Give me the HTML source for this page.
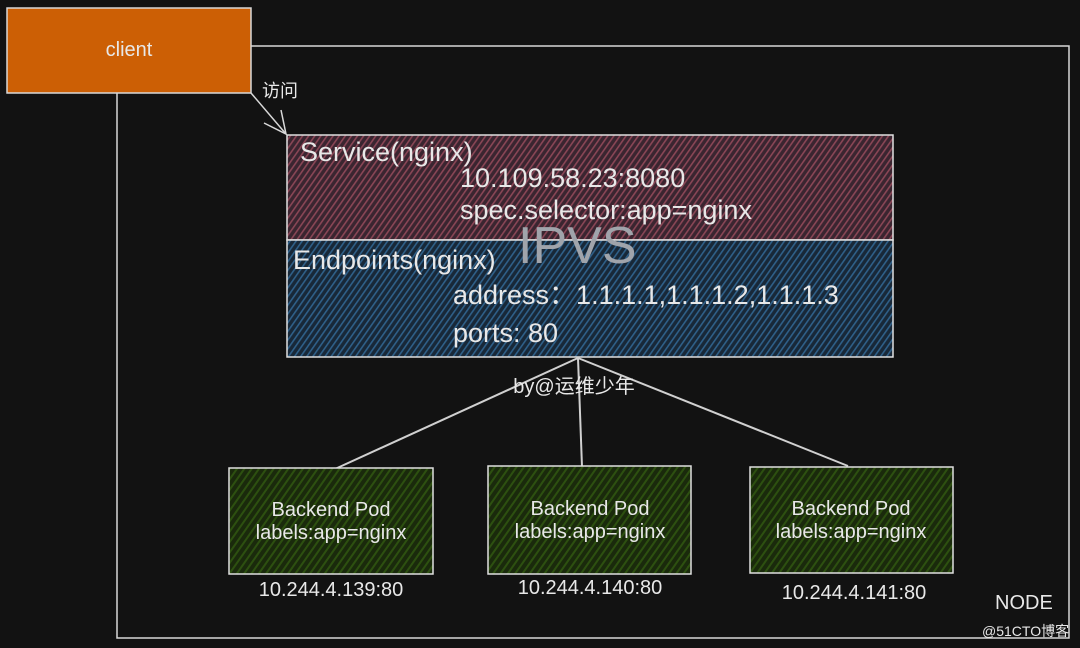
<!DOCTYPE html>
<html><head><meta charset="utf-8"><style>
html,body{margin:0;padding:0;background:#121212;}
svg{display:block}
text{font-family:"Liberation Sans","Noto Sans CJK SC",sans-serif;fill:#e8e8e8}
</style></head><body>
<svg width="1080" height="648" viewBox="0 0 1080 648" xmlns="http://www.w3.org/2000/svg">
<defs>
<pattern id="hr" width="5" height="5" patternUnits="userSpaceOnUse" patternTransform="rotate(35)">
<rect width="5" height="5" fill="#3a2530"/><rect width="1.6" height="5" fill="#8a4656"/></pattern>
<pattern id="hb" width="5" height="5" patternUnits="userSpaceOnUse" patternTransform="rotate(35)">
<rect width="5" height="5" fill="#182838"/><rect width="1.6" height="5" fill="#2f6089"/></pattern>
<pattern id="hg" width="6" height="6" patternUnits="userSpaceOnUse" patternTransform="rotate(35)">
<rect width="6" height="6" fill="#1a2a0c"/><rect width="2" height="6" fill="#2d5010"/></pattern>
</defs>
<rect width="1080" height="648" fill="#121212"/>
<polyline points="251,46 1069,46 1069,638 117,638 117,93" fill="none" stroke="#d8d8d8" stroke-width="1.5"/>
<rect x="7" y="8" width="244" height="85" fill="#cc5f05" stroke="#d8d8d8" stroke-width="1.5"/>
<text x="129" y="56" font-size="20" text-anchor="middle">client</text>
<line x1="251" y1="93" x2="286" y2="134" stroke="#d8d8d8" stroke-width="1.5"/>
<polyline points="264,123 286,134 281,110" fill="none" stroke="#d8d8d8" stroke-width="1.5"/>
<text x="262" y="97" font-size="18">访问</text>
<rect x="287" y="135" width="606" height="105" fill="url(#hr)" stroke="#e0e0e0" stroke-width="1.5"/>
<rect x="287" y="240" width="606" height="117" fill="url(#hb)" stroke="#e0e0e0" stroke-width="1.5"/>
<text x="300" y="161" font-size="27">Service(nginx)</text>
<text x="460" y="187" font-size="27">10.109.58.23:8080</text>
<text x="460" y="219" font-size="27">spec.selector:app=nginx</text>
<text x="518" y="263" font-size="52" style="fill:#a0a4ab">IPVS</text>
<text x="293" y="269" font-size="27">Endpoints(nginx)</text>
<text x="453" y="304" font-size="27">address：1.1.1.1,1.1.1.2,1.1.1.3</text>
<text x="453" y="342" font-size="27">ports: 80</text>
<g stroke="#d0d0d0" stroke-width="2">
<line x1="578" y1="358" x2="335" y2="469"/>
<line x1="578" y1="358" x2="582" y2="467"/>
<line x1="578" y1="358" x2="848" y2="466"/>
</g>
<text x="574" y="393" font-size="20" text-anchor="middle">by@运维少年</text>
<g stroke="#e0e0e0" stroke-width="1.5">
<rect x="229" y="468" width="204" height="106" fill="url(#hg)"/>
<rect x="488" y="466" width="203" height="108" fill="url(#hg)"/>
<rect x="750" y="467" width="203" height="106" fill="url(#hg)"/>
</g>
<g font-size="20" text-anchor="middle">
<text x="331" y="516">Backend Pod</text><text x="331" y="539">labels:app=nginx</text>
<text x="590" y="515">Backend Pod</text><text x="590" y="538">labels:app=nginx</text>
<text x="851" y="515">Backend Pod</text><text x="851" y="538">labels:app=nginx</text>
<text x="331" y="596">10.244.4.139:80</text>
<text x="590" y="594">10.244.4.140:80</text>
<text x="854" y="599">10.244.4.141:80</text>
</g>
<text x="995" y="609" font-size="20">NODE</text>
<text x="982" y="636" font-size="14">@51CTO博客</text>
</svg>
</body></html>
